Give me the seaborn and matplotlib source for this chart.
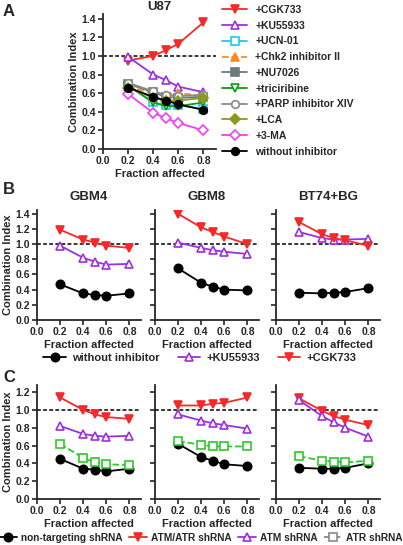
import matplotlib
matplotlib.use("Agg")
import matplotlib.pyplot as plt
import seaborn as sns
import pandas as pd
from matplotlib.lines import Line2D

sns.set_style("ticks")
plt.rcParams['font.family'] = ['Liberation Sans', 'DejaVu Sans']
plt.rcParams['font.weight'] = 'bold'
plt.rcParams['axes.labelweight'] = 'bold'
plt.rcParams['axes.titleweight'] = 'bold'

fa = [0.2, 0.4, 0.5, 0.6, 0.8]

# panel A: U87
u87_names = ['+CGK733', '+KU55933', '+UCN-01', '+Chk2 inhibitor II', '+NU7026',
             '+triciribine', '+PARP inhibitor XIV', '+LCA', '+3-MA', 'without inhibitor']
u87_values = [
    [0.95, 1.00, 1.06, 1.13, 1.36],
    [0.99, 0.80, 0.74, 0.67, 0.61],
    [0.68, 0.50, 0.47, 0.47, 0.43],
    [0.67, 0.60, 0.58, 0.60, 0.57],
    [0.70, 0.61, 0.56, 0.55, 0.56],
    [0.68, 0.50, 0.46, 0.46, 0.50],
    [0.71, 0.62, 0.58, 0.57, 0.58],
    [0.66, 0.55, 0.52, 0.52, 0.55],
    [0.59, 0.39, 0.33, 0.28, 0.20],
    [0.66, 0.56, 0.52, 0.48, 0.42],
]

# panel B: inhibitors in three lines
b_titles = ['GBM4', 'GBM8', 'BT74+BG']
b_names = ['without inhibitor', '+KU55933', '+CGK733']
b_values = {
    'GBM4': [[0.47, 0.35, 0.33, 0.32, 0.35],
             [0.98, 0.82, 0.77, 0.73, 0.74],
             [1.19, 1.06, 1.02, 0.98, 0.95]],
    'GBM8': [[0.68, 0.49, 0.44, 0.40, 0.39],
             [1.02, 0.95, 0.92, 0.90, 0.87],
             [1.40, 1.22, 1.16, 1.10, 1.00]],
    'BT74+BG': [[0.36, 0.35, 0.36, 0.37, 0.42],
                [1.16, 1.08, 1.06, 1.06, 1.07],
                [1.29, 1.13, 1.08, 1.05, 0.98]],
}

# panel C: shRNA
c_names = ['non-targeting shRNA', 'ATM/ATR shRNA', 'ATM shRNA', 'ATR shRNA']
c_values = [
    [[0.45, 0.34, 0.33, 0.31, 0.34],
     [1.14, 1.00, 0.95, 0.92, 0.90],
     [0.82, 0.73, 0.71, 0.70, 0.71],
     [0.62, 0.46, 0.41, 0.39, 0.38]],
    [[0.62, 0.47, 0.43, 0.39, 0.37],
     [1.05, 1.05, 1.07, 1.08, 1.14],
     [0.95, 0.88, 0.85, 0.83, 0.79],
     [0.65, 0.61, 0.59, 0.59, 0.59]],
    [[0.35, 0.34, 0.34, 0.35, 0.40],
     [1.13, 0.99, 0.93, 0.89, 0.83],
     [1.11, 0.93, 0.86, 0.80, 0.70],
     [0.48, 0.43, 0.42, 0.41, 0.43]],
]

RED = '#f42a2a'
PURPLE = '#9b30e0'
GREEN_C = '#2ec82e'

u87_style = [
    dict(color=RED, marker='v', mfc=RED, ls='-'),
    dict(color=PURPLE, marker='^', mfc='white', ls='-'),
    dict(color='#1ec8f0', marker='s', mfc='white', ls='-'),
    dict(color='#ff8a1e', marker='^', mfc='#ff8a1e', ls='--'),
    dict(color='#6c7a7a', marker='s', mfc='#6c7a7a', ls='-'),
    dict(color='#119a11', marker='v', mfc='white', ls='-'),
    dict(color='#8a8a8a', marker='o', mfc='white', ls='-'),
    dict(color='#8a9a1a', marker='D', mfc='#8a9a1a', ls='-'),
    dict(color='#f040f0', marker='D', mfc='white', ls='-'),
    dict(color='black', marker='o', mfc='black', ls='-'),
]
b_style = [u87_style[9], u87_style[1], u87_style[0]]
c_style = [u87_style[9], u87_style[0], u87_style[1],
           dict(color=GREEN_C, marker='s', mfc='white', ls='--')]

W, H = 403, 545
fig = plt.figure(figsize=(W / 100, H / 100), dpi=100)


def add_ax(left, top, right, bottom):
    return fig.add_axes([left / W, 1 - bottom / H, (right - left) / W, (bottom - top) / H])


def draw(ax, vals, style, ms, label=None):
    df = pd.DataFrame({'fa': fa, 'ci': vals})
    sns.lineplot(data=df, x='fa', y='ci', ax=ax, color=style['color'], marker=style['marker'],
                 markerfacecolor=style['mfc'], markeredgecolor=style['color'], markeredgewidth=1.2,
                 markersize=ms, linestyle=style['ls'], lw=1.3, label=label, legend=False)


def style_ax(ax, ymax, yticks, ylabel=True, yticklabels=True):
    ax.set_xlim(0, 0.9)
    ax.set_ylim(0, ymax)
    ax.axhline(1.0, color='black', ls=(0, (2.5, 1.5)), lw=1.1, zorder=0)
    ax.set_xticks([0.0, 0.2, 0.4, 0.6, 0.8])
    ax.set_xticklabels(['0.0', '0.2', '0.4', '0.6', '0.8'])
    ax.set_yticks(yticks)
    if yticklabels:
        ax.set_yticklabels([f'{t:.1f}' for t in yticks])
    else:
        ax.set_yticklabels([])
    ax.tick_params(labelsize=7.5, width=1.2, length=3.5, pad=1.5)
    for t in ax.get_xticklabels() + ax.get_yticklabels():
        t.set_fontweight('bold')
    for s in ['left', 'bottom']:
        ax.spines[s].set_linewidth(1.3)
    sns.despine(ax=ax)
    ax.set_xlabel('Fraction affected', fontsize=8, labelpad=2)
    ax.set_ylabel('Combination Index' if ylabel else '', fontsize=8, labelpad=2)


yt14 = [0.0, 0.2, 0.4, 0.6, 0.8, 1.0, 1.2, 1.4]
yt12 = [0.0, 0.2, 0.4, 0.6, 0.8, 1.0, 1.2]

# panel A
axA = add_ax(103, 14, 216, 149)
for name, vals, st in zip(u87_names, u87_values, u87_style):
    draw(axA, vals, st, 5.5, label=name)
style_ax(axA, 1.45, yt14)
axA.set_title('U87', fontsize=9.5, pad=3)
hA, lA = axA.get_legend_handles_labels()
hA = [h for h in hA if isinstance(h, Line2D) and h.get_label() in u87_names]
fig.legend(hA, [h.get_label() for h in hA], loc='upper left', bbox_to_anchor=(222 / W, 1 - 5 / H),
           frameon=False, fontsize=7.5, handlelength=2.4, labelspacing=0.55, handletextpad=0.8,
           borderaxespad=0, borderpad=0)

# panel B
b_left = [37, 155, 276]
b_handles = None
for i, title in enumerate(b_titles):
    ax = add_ax(b_left[i], 210, b_left[i] + 104, 320)
    for name, vals, st in zip(b_names, b_values[title], b_style):
        draw(ax, vals, st, 6, label=name)
    style_ax(ax, 1.45, yt14, ylabel=(i == 0), yticklabels=(i == 0))
    ax.set_title(title, fontsize=9.5, pad=7)
    if i == 0:
        h, l = ax.get_legend_handles_labels()
        b_handles = [x for x in h if isinstance(x, Line2D)]
fig.legend(b_handles, b_names, loc='center', bbox_to_anchor=(200 / W, 1 - 358 / H), ncol=3,
           frameon=False, fontsize=8, handlelength=2.0, columnspacing=1.6, handletextpad=0.6,
           borderaxespad=0, borderpad=0)

# panel C
c_handles = None
for i in range(3):
    ax = add_ax(b_left[i], 385, b_left[i] + 104, 499)
    for name, vals, st in zip(c_names, c_values[i], c_style):
        draw(ax, vals, st, 6, label=name)
    style_ax(ax, 1.28, yt12, ylabel=(i == 0), yticklabels=(i == 0))
    if i == 0:
        h, l = ax.get_legend_handles_labels()
        c_handles = [x for x in h if isinstance(x, Line2D)]
# legend shows ATR shRNA in grey
c_handles[3] = Line2D([], [], color='#8a8a8a', marker='s', markerfacecolor='white',
                      markeredgecolor='#8a8a8a', ls='--', lw=1.3, markersize=6, markeredgewidth=1.2)
fig.legend(c_handles, c_names, loc='center', bbox_to_anchor=(201 / W, 1 - 538 / H), ncol=4,
           frameon=False, fontsize=7.3, handlelength=1.8, columnspacing=0.6, handletextpad=0.4,
           borderaxespad=0, borderpad=0)

for lab, y in [('A', 12), ('B', 189), ('C', 377)]:
    fig.text(3 / W, 1 - y / H, lab, fontsize=12, fontweight='bold', va='center', ha='left')

fig.savefig('out.png', dpi=100)
